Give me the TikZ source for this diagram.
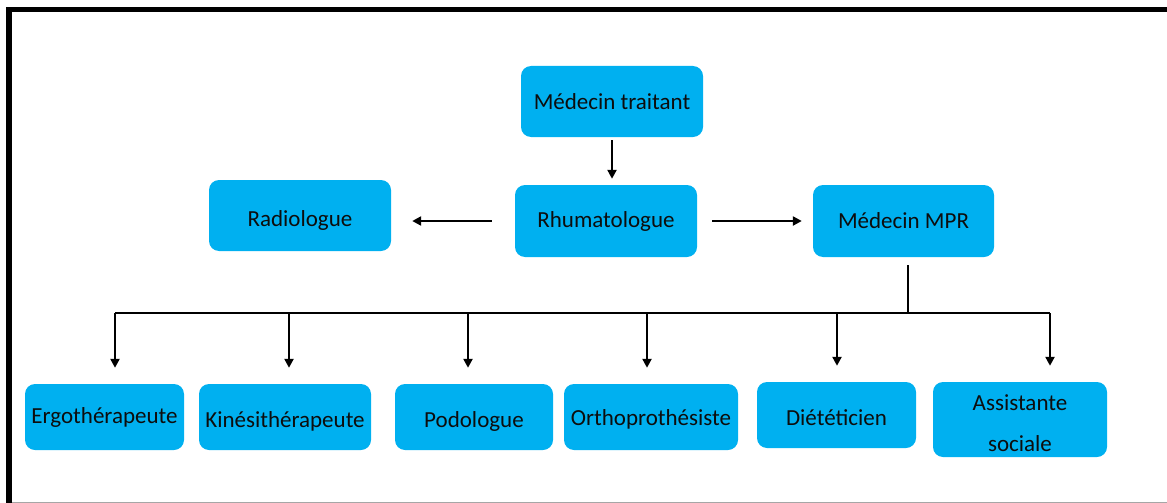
\documentclass[tikz,border=0pt]{standalone}
\usepackage{fontspec}
\setmainfont{Carlito}
\usetikzlibrary{arrows.meta}
\definecolor{Boite}{HTML}{00B0F0}
\definecolor{Texte}{HTML}{0D0D0D}
\definecolor{Cadre}{HTML}{A6A6A6}
% texte un peu plus bas dans la boite
\newcommand{\descend}[2]{\raisebox{-#1}[\height][\depth]{#2}}

\begin{document}
\begin{tikzpicture}[x=1pt, y=-1pt, font=\fontsize{23}{28}\selectfont,
  boite/.style={fill=Boite, rounded corners=10pt, text=Texte, align=center, inner sep=0pt},
  trait/.style={line width=2.9pt},
  fleche/.style={trait, -{Triangle[length=9pt,width=9pt]}}]
  \useasboundingbox (0,0) rectangle (1167,503);
  % cadre
  \draw[Cadre, line width=1pt] (12,502) -- (1167,502);
  \draw[line width=5.5pt] (9,503) -- (9,9.5) -- (1167,9.5);

  % niveau 1 et 2
  \node[boite, minimum width=182pt, minimum height=71pt] (traitant) at (612,101.5) {Médecin traitant};
  \node[boite, minimum width=182pt, minimum height=72pt] (rhumato) at (606,221) {Rhumatologue};
  \node[boite, minimum width=182pt, minimum height=71pt] (radio) at (300,215.5) {\descend{5pt}{Radiologue}};
  \node[boite, minimum width=181pt, minimum height=72pt] (mpr) at (903.5,221) {Médecin MPR};

  \draw[fleche, shorten <=3pt, shorten >=6pt] (traitant.south) -- (traitant.south |- rhumato.north);
  \draw[fleche, shorten <=23pt, shorten >=21pt] (rhumato.west) -- (rhumato.west -| radio.east);
  \draw[fleche, shorten <=15pt, shorten >=11pt] (rhumato.east) -- (rhumato.east -| mpr.west);

  % equipe
  \node[boite, minimum width=159pt, minimum height=66pt] (ergo) at (104.5,417) {Ergothérapeute};
  \node[boite, minimum width=172pt, minimum height=66pt] (kine) at (285,417) {\descend{4pt}{Kinésithérapeute}};
  \node[boite, minimum width=158pt, minimum height=66pt] (podo) at (474,417) {\descend{4pt}{Podologue}};
  \node[boite, minimum width=174pt, minimum height=66pt] (ortho) at (651,417) {\descend{2pt}{Orthoprothésiste}};
  \node[boite, minimum width=159pt, minimum height=66pt] (diet) at (836.5,415) {\descend{3pt}{Diététicien}};
  \node[boite, minimum width=174pt, minimum height=75pt] (assist) at (1020,419.5) {\descend{4pt}{Assistante}\\[13pt]\descend{4pt}{sociale}};

  \coordinate (bus) at (908,313);
  \draw[trait, shorten <=8pt] (mpr.south -| bus) -- (bus);
  \coordinate (busg) at (115,313);
  \coordinate (busd) at (1050,313);
  \draw[trait] (busg) -- (busd);
  \foreach \n/\x in {ergo/115, kine/289, podo/468, ortho/647, diet/837, assist/1050}{
    \coordinate (d\n) at (\x,313);
    \draw[fleche, shorten >=16pt] (d\n) -- (d\n |- \n.north);
  }
\end{tikzpicture}
\end{document}
